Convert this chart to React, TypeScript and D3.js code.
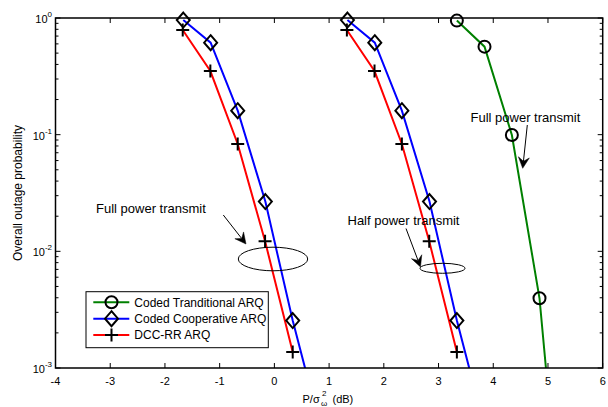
import React from "react";
import * as d3 from "d3";

// ---- data ----
const xTicks = [-4, -3, -2, -1, 0, 1, 2, 3, 4, 5, 6];
const yTickExps = [0, -1, -2, -3];

const tradX = [3.335, 3.84, 4.34, 4.845, 5.34];
const tradY = [0.95, 0.568, 0.0994, 0.00396, 0.000012];

const coopFullX = [-1.665, -1.165, -0.67, -0.165, 0.335, 0.835];
const coopFullY = [0.96, 0.614, 0.1606, 0.0267, 0.00255, 0.00032];
const dccFullX = [-1.675, -1.17, -0.67, -0.17, 0.335];
const dccFullY = [0.79, 0.351, 0.0832, 0.0122, 0.00137];

const coopHalfX = [1.335, 1.835, 2.33, 2.835, 3.335, 3.835];
const coopHalfY = [0.96, 0.614, 0.1606, 0.0267, 0.00255, 0.00032];
const dccHalfX = [1.325, 1.83, 2.33, 2.83, 3.335];
const dccHalfY = [0.79, 0.351, 0.0832, 0.0122, 0.00137];

const legendLabels = ["Coded Tranditional ARQ", "Coded Cooperative ARQ", "DCC-RR ARQ"];
const annotations = ["Full power transmit", "Half power transmit", "Full power transmit"];

// ---- layout ----
const W = 608, H = 407;
const L = 55.5, R = 602.7, T = 18, B = 368;
const FONT = "'Liberation Sans', Arial, Helvetica, sans-serif";

const x = d3.scaleLinear().domain([-4, 6]).range([L, R]);
const y = d3.scaleLog().domain([1e-3, 1]).range([B, T]);

type P = [number, number];
const zip = (xs: number[], ys: number[]): P[] => xs.map((v, i) => [v, ys[i]]);
const lineGen = d3.line<P>().x(d => x(d[0])).y(d => y(d[1]));
const inside = (d: P) => d[1] >= 1e-3 && d[1] <= 1.05 && d[0] >= -4 && d[0] <= 6;

const Circle = ({ cx, cy }: { cx: number; cy: number }) => (
  <circle cx={cx} cy={cy} r={6} fill="none" stroke="#000" strokeWidth={2} />
);
const Diamond = ({ cx, cy }: { cx: number; cy: number }) => (
  <path d={`M${cx},${cy - 7.5}L${cx + 6.5},${cy}L${cx},${cy + 7.5}L${cx - 6.5},${cy}Z`} fill="none" stroke="#000" strokeWidth={2} />
);
const Plus = ({ cx, cy }: { cx: number; cy: number }) => (
  <path d={`M${cx - 6.5},${cy}H${cx + 6.5}M${cx},${cy - 6.5}V${cy + 6.5}`} fill="none" stroke="#000" strokeWidth={2} />
);

const Arrow = ({ x1, y1, x2, y2 }: { x1: number; y1: number; x2: number; y2: number }) => {
  const ang = Math.atan2(y2 - y1, x2 - x1);
  const len = 11, wid = 5.5, back = 7;
  const ux = Math.cos(ang), uy = Math.sin(ang);
  const px = -uy, py = ux;
  const bx = x2 - ux * len, by = y2 - uy * len;
  const nx = x2 - ux * back, ny = y2 - uy * back;
  return (
    <g>
      <line x1={x1} y1={y1} x2={nx} y2={ny} stroke="#000" strokeWidth={1} />
      <path
        d={`M${x2},${y2}L${bx + px * wid},${by + py * wid}L${nx},${ny}L${bx - px * wid},${by - py * wid}Z`}
        fill="#000"
        stroke="#000"
        strokeWidth={0.5}
      />
    </g>
  );
};

export default function App() {
  const minorY: number[] = [];
  for (let e = -3; e < 0; e++) for (let m = 2; m <= 9; m++) minorY.push(m * Math.pow(10, e));

  const series = [
    { data: zip(tradX, tradY), color: "#008000", M: Circle },
    { data: zip(coopFullX, coopFullY), color: "#0000ff", M: Diamond },
    { data: zip(dccFullX, dccFullY), color: "#ff0000", M: Plus },
    { data: zip(coopHalfX, coopHalfY), color: "#0000ff", M: Diamond },
    { data: zip(dccHalfX, dccHalfY), color: "#ff0000", M: Plus },
  ];

  const legendColors = ["#008000", "#0000ff", "#ff0000"];
  const legendMarkers = [Circle, Diamond, Plus];

  return (
    <svg width={W} height={H} style={{ position: "absolute", left: 0, top: 0, background: "#fff" }} fontFamily={FONT}>
      <defs>
        <clipPath id="plotclip">
          <rect x={L} y={T} width={R - L} height={B - T} />
        </clipPath>
      </defs>
      <rect x={0} y={0} width={W} height={H} fill="#fff" />

      {/* ticks */}
      <g stroke="#000" strokeWidth={1}>
        {xTicks.map(t => (
          <g key={"xt" + t}>
            <line x1={x(t)} x2={x(t)} y1={B} y2={B - 5} />
            <line x1={x(t)} x2={x(t)} y1={T} y2={T + 5} />
          </g>
        ))}
        {yTickExps.map(e => (
          <g key={"yt" + e}>
            <line x1={L} x2={L + 5} y1={y(Math.pow(10, e))} y2={y(Math.pow(10, e))} />
            <line x1={R} x2={R - 5} y1={y(Math.pow(10, e))} y2={y(Math.pow(10, e))} />
          </g>
        ))}
        {minorY.map((v, i) => (
          <g key={"ym" + i}>
            <line x1={L} x2={L + 3} y1={y(v)} y2={y(v)} />
            <line x1={R} x2={R - 3} y1={y(v)} y2={y(v)} />
          </g>
        ))}
      </g>

      {/* tick labels */}
      <g fontSize={11} fill="#000">
        {xTicks.map(t => (
          <text key={"xl" + t} x={x(t)} y={385} textAnchor="middle">
            {t}
          </text>
        ))}
        {yTickExps.map(e => (
          <text key={"yl" + e} x={52} y={y(Math.pow(10, e)) + 5} textAnchor="end">
            10
            <tspan dy={-6} fontSize={8}>
              {e}
            </tspan>
          </text>
        ))}
      </g>

      {/* axis labels */}
      <text x={22} y={(T + B) / 2} fontSize={12} textAnchor="middle" transform={`rotate(-90, 22, ${(T + B) / 2})`}>
        Overall outage probability
      </text>
      <g fontSize={11}>
        <text x={302.5} y={402.5}>P/σ</text>
        <text x={322} y={395.5} fontSize={8}>2</text>
        <text x={321} y={406} fontSize={8}>ω</text>
        <text x={332.5} y={402.5}>(dB)</text>
      </g>

      {/* series lines */}
      <g clipPath="url(#plotclip)">
        {series.map((s, i) => (
          <path key={"ln" + i} d={lineGen(s.data) || ""} fill="none" stroke={s.color} strokeWidth={2} />
        ))}
      </g>
      {series.map((s, i) => (
        <g key={"mk" + i}>
          {s.data.filter(inside).map((d, j) => (
            <s.M key={j} cx={x(d[0])} cy={y(d[1])} />
          ))}
        </g>
      ))}

      {/* annotations */}
      <g fontSize={13} fill="#000">
        <text x={96} y={212.5}>{annotations[0]}</text>
        <text x={347.5} y={225}>{annotations[1]}</text>
        <text x={470.5} y={121.5}>{annotations[2]}</text>
      </g>
      <Arrow x1={223.3} y1={215} x2={246} y2={244} />
      <Arrow x1={406} y1={228.5} x2={420.5} y2={267} />
      <Arrow x1={527.3} y1={125} x2={522.7} y2={168.3} />
      <ellipse cx={273} cy={259} rx={34.7} ry={11.8} fill="none" stroke="#000" strokeWidth={1} />
      <ellipse cx={442.5} cy={268.3} rx={22.5} ry={5} fill="none" stroke="#000" strokeWidth={1} />

      {/* legend */}
      <rect x={86} y={291.7} width={182.3} height={56} fill="#fff" stroke="#000" strokeWidth={1} />
      {legendLabels.map((lab, i) => {
        const M = legendMarkers[i];
        const ly = 302.3 + i * 16.4;
        return (
          <g key={"lg" + i}>
            <line x1={93.3} x2={129.3} y1={ly} y2={ly} stroke={legendColors[i]} strokeWidth={2} />
            <M cx={111.5} cy={ly} />
            <text x={134.3} y={ly + 4.3} fontSize={12}>
              {lab}
            </text>
          </g>
        );
      })}

      {/* axes box */}
      <rect x={L} y={T} width={R - L} height={B - T} fill="none" stroke="#000" strokeWidth={1.5} />
    </svg>
  );
}
